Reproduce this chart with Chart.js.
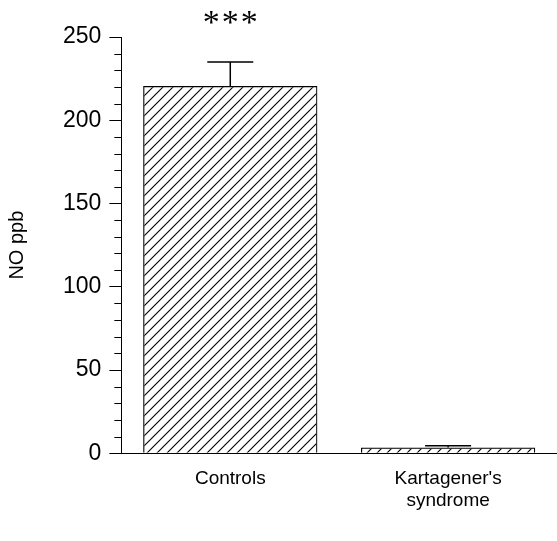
<!DOCTYPE html>
<html>
<head>
<meta charset="utf-8">
<script src="https://cdn.jsdelivr.net/npm/chart.js@4.4.0/dist/chart.umd.min.js"></script>
<style>
  html, body { margin: 0; padding: 0; background: #fff; }
  #wrap { width: 557px; height: 541px; }
</style>
</head>
<body>
<div id="wrap"><canvas id="noChart" width="557" height="541"></canvas></div>
<script>
    // values
    var labels = ['Controls', ["Kartagener's", 'syndrome']];
    var means = [220.5, 3.5];
    var sem = [14.5, 1.0];
    var stars = ['***', ''];
    var yTicks = [0, 50, 100, 150, 200, 250];

    var fontName = '"Liberation Sans", Arial, sans-serif';

    // diagonal hatch fill
    function hatch(){
        var s = 10;
        var c = document.createElement('canvas');
        c.width = s; c.height = s;
        var g = c.getContext('2d');
        g.strokeStyle = '#000';
        g.lineWidth = 1.1;
        g.beginPath();
        g.moveTo(-1, s+1); g.lineTo(s+1, -1);
        g.moveTo(-s/2, s/2); g.lineTo(s/2, -s/2);
        g.moveTo(s/2, s*1.5); g.lineTo(s*1.5, s/2);
        g.stroke();
        return g.createPattern(c, 'repeat');
    }

    // error bars + significance marks + minor ticks
    var extras = {
        id: 'extras',
        afterDatasetsDraw: function(chart){
            var ctx = chart.ctx;
            var y = chart.scales.y;
            var meta = chart.getDatasetMeta(0);
            ctx.save();
            ctx.strokeStyle = '#000';
            ctx.lineWidth = 1.5;
            for(var i=0;i<means.length;i++){
                var bar = meta.data[i];
                var x = bar.x;
                var top = y.getPixelForValue(means[i] + sem[i]);
                ctx.beginPath();
                ctx.moveTo(x, bar.y);
                ctx.lineTo(x, top);
                ctx.moveTo(x - 23, top);
                ctx.lineTo(x + 23, top);
                ctx.stroke();
                if(stars[i]){
                    ctx.fillStyle = '#000';
                    ctx.font = '34px "Liberation Serif", serif';
                    ctx.textAlign = 'center';
                    ctx.textBaseline = 'middle';
                    for(var k=0;k<stars[i].length;k++){
                        ctx.fillText('*', x + (k-1)*19, top - 38);
                    }
                }
            }
            // minor ticks every 10
            ctx.lineWidth = 1;
            var left = chart.chartArea.left;
            for(var v=10; v<250; v+=10){
                if(v % 50 === 0) continue;
                var py = Math.round(y.getPixelForValue(v)) + 0.5;
                ctx.beginPath();
                ctx.moveTo(left - 7, py);
                ctx.lineTo(left, py);
                ctx.stroke();
            }
            ctx.restore();
        }
    };

    var barCtx = document.getElementById('noChart');
    var barChart = new Chart(barCtx, {
        type: 'bar',
        data: {
            labels: labels,
            datasets: [{
                data: means,
                backgroundColor: hatch(),
                borderColor: '#000',
                borderWidth: 1.2,
                barPercentage: 0.8,
                categoryPercentage: 1.0
            }]
        },
        options: {
            responsive: false,
            animation: false,
            devicePixelRatio: 1,
            layout: { padding: { top: 37, right: -4, left: 5, bottom: 22 } },
            plugins: { legend: { display: false }, tooltip: { enabled: false } },
            scales: {
                x: {
                    grid: { display: false },
                    border: { display: true, color: '#000', width: 1 },
                    ticks: {
                        color: '#000',
                        padding: 7,
                        maxRotation: 0,
                        font: { family: fontName, size: 19, lineHeight: 1.15 }
                    }
                },
                y: {
                    min: 0,
                    max: 250,
                    afterBuildTicks: function(axis){
                        axis.ticks = yTicks.map(function(v){ return { value: v }; });
                    },
                    grid: { drawOnChartArea: false, tickLength: 12, color: '#000', tickWidth: 1 },
                    border: { display: true, color: '#000', width: 1 },
                    ticks: {
                        color: '#000',
                        padding: 8,
                        font: { family: fontName, size: 23 }
                    },
                    title: {
                        display: true,
                        text: 'NO ppb',
                        color: '#000',
                        padding: { top: 0, bottom: 26 },
                        font: { family: fontName, size: 20 }
                    }
                }
            }
        },
        plugins: [extras]
    });
</script>
</body>
</html>
